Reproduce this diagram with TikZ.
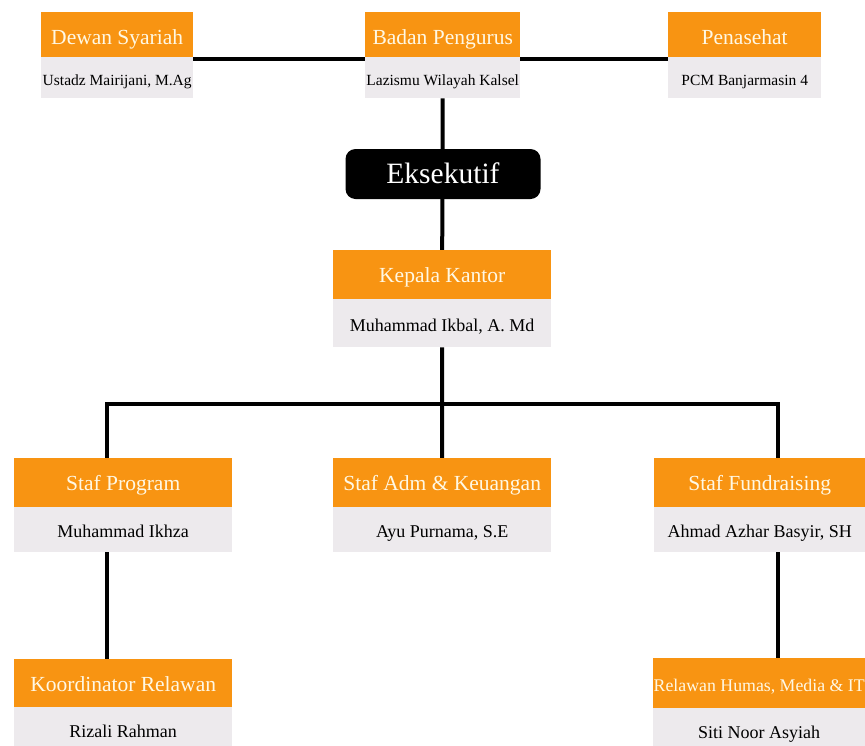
\documentclass[tikz,border=0pt]{standalone}
\usepackage{fontspec}
\setmainfont{Liberation Serif}
\usetikzlibrary{backgrounds}
\definecolor{orng}{RGB}{248,148,18}
\definecolor{lgray}{RGB}{237,234,237}
\definecolor{cream}{RGB}{255,248,228}
\tikzset{
  ttl/.style={fill=orng, text=cream, inner sep=0pt, anchor=north west, font=\fontsize{21.5}{23}\selectfont, text height=17pt, text depth=1pt},
  topttl/.style={ttl, text height=20pt, text depth=1pt},
  nm/.style={fill=lgray, text=black, inner sep=0pt, anchor=north west, font=\fontsize{18}{20}\selectfont, text height=16pt, text depth=0pt},
  topnm/.style={nm, font=\fontsize{15.5}{17}\selectfont},
  conn/.style={line width=4pt, black},
  exec/.style={fill=black, text=white, rounded corners=10pt, inner sep=0pt, font=\fontsize{29.5}{31}\selectfont, text height=20pt, text depth=1pt}
}
\begin{document}
\begin{tikzpicture}[x=1pt,y=-1pt]
\useasboundingbox (0,0) rectangle (865,745);
% top row
\node[topttl, minimum width=152pt, minimum height=45pt] (dewT) at (41,12) {Dewan Syariah};
\node[topnm, minimum width=152pt, minimum height=41pt] (dewN) at (41,57) {Ustadz Mairijani, M.Ag};
\node[topttl, minimum width=155pt, minimum height=45pt] (badT) at (365,12) {Badan Pengurus};
\node[topnm, minimum width=155pt, minimum height=41pt] (badN) at (365,57) {Lazismu Wilayah Kalsel};
\node[topttl, minimum width=153pt, minimum height=45pt] (penT) at (668,12) {Penasehat};
\node[topnm, minimum width=153pt, minimum height=41pt] (penN) at (668,57) {PCM Banjarmasin 4};
% executive
\node[exec, minimum width=195pt, minimum height=50pt] (eks) at (443,174) {Eksekutif};
\node[ttl, minimum width=218pt, minimum height=49pt] (kepT) at (333,250) {Kepala Kantor};
\node[nm, minimum width=218pt, minimum height=48pt] (kepN) at (333,299) {Muhammad Ikbal, A. Md};
% staff
\node[ttl, minimum width=218pt, minimum height=49pt] (progT) at (14,458) {Staf Program};
\node[nm, minimum width=218pt, minimum height=45pt] (progN) at (14,507) {Muhammad Ikhza};
\node[ttl, minimum width=218pt, minimum height=49pt] (admT) at (333,458) {Staf Adm \& Keuangan};
\node[nm, minimum width=218pt, minimum height=45pt] (admN) at (333,507) {Ayu Purnama, S.E};
\node[ttl, minimum width=211pt, minimum height=49pt] (fundT) at (654,458) {Staf Fundraising};
\node[nm, minimum width=211pt, minimum height=45pt] (fundN) at (654,507) {Ahmad Azhar Basyir, SH};
% bottom
\node[ttl, minimum width=218pt, minimum height=48pt] (korT) at (14,659) {Koordinator Relawan};
\node[nm, minimum width=218pt, minimum height=45pt] (korN) at (14,707) {Rizali Rahman};
\node[ttl, minimum width=212pt, minimum height=50pt, font=\fontsize{17.8}{19}\selectfont, text height=18pt] (relT) at (653,658) {Relawan Humas, Media \& IT};
\node[nm, minimum width=212pt, minimum height=45pt] (relN) at (653,708) {Siti Noor Asyiah};
% connectors
\coordinate (hub) at (442,404);
\begin{pgfonlayer}{background}
\draw[conn] ([yshift=-2pt]dewT.south east) -- ([yshift=-2pt]badT.south west);
\draw[conn] ([yshift=-2pt]badT.south east) -- ([yshift=-2pt]penT.south west);
\draw[conn] (badN.south) -- (kepT.north);
\draw[conn] (kepN.south) -- (hub);
\draw[conn] (progT.north -| 107,0) |- (hub) -| (fundT.north -| 778,0);
\draw[conn] (hub) -- (admT.north);
\draw[conn] (progN.south -| 107,0) -- (korT.north -| 107,0);
\draw[conn] (fundN.south -| 778,0) -- (relT.north -| 778,0);
\end{pgfonlayer}
\end{tikzpicture}
\end{document}
